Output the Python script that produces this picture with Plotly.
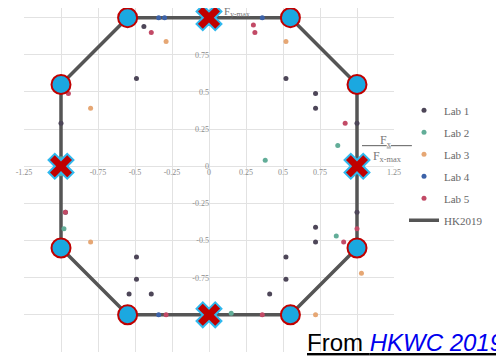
import plotly.graph_objects as go

# test data (normalised forces Fx/Fx-max, Fy/Fy-max)
lab1_x = [-0.49, 0.52, 0.72, 0.72, -1.0, 1.0, 1.0, -0.97, 0.72, 0.72, -0.49, -0.49, -0.54, -0.39, 0.52, 0.52, 0.41, -0.44]
lab1_y = [0.59, 0.59, 0.49, 0.39, 0.29, 0.29, -0.31, -0.31, -0.41, -0.51, -0.61, -0.76, -0.86, -0.86, -0.61, -0.76, -0.86, 0.94]
lab2_x = [0.38, 0.87, -1.0, -0.98, 0.86, 0.15, -1.0]
lab2_y = [0.04, 0.14, -0.05, -0.42, -0.47, -0.99, 0.05]
lab3_x = [-0.29, 0.52, -0.80, -0.80, 1.03, 0.72]
lab3_y = [0.84, 0.84, 0.39, -0.51, -0.72, -1.0]
lab4_x = [-0.34, -0.30, 0.36, -0.34]
lab4_y = [1.0, 1.0, 1.0, -1.0]
lab5_x = [-0.39, 0.30, 0.31, 0.92, -0.97, 1.0, 0.91, -0.29, 0.36, -0.95]
lab5_y = [0.90, 0.95, 0.90, 0.29, -0.31, -0.42, -0.51, -1.0, -1.0, 0.49]

# HK2019 interaction envelope (octagon)
hk_x = [-0.55, 0.55, 1.0, 1.0, 0.55, -0.55, -1.0, -1.0, -0.55]
hk_y = [1.0, 1.0, 0.55, -0.55, -1.0, -1.0, -0.55, 0.55, 1.0]

# highlighted points
corner_x = [-0.55, 0.55, 1.0, 1.0, 0.55, -0.55, -1.0, -1.0]
corner_y = [1.0, 1.0, 0.55, -0.55, -1.0, -1.0, -0.55, 0.55]
axis_x = [0, 1.0, 0, -1.0]
axis_y = [1.0, 0, -1.0, 0]

ticks = [-1.25, -1.0, -0.75, -0.5, -0.25, 0, 0.25, 0.5, 0.75, 1.0, 1.25]
tick_text = ["-1.25", "-1", "-0.75", "-0.5", "-0.25", "0", "0.25", "0.5", "0.75", "1", "1.25"]

labs = [
    ("Lab 1", lab1_x, lab1_y, "#4d4658"),
    ("Lab 2", lab2_x, lab2_y, "#62ad98"),
    ("Lab 3", lab3_x, lab3_y, "#e6a774"),
    ("Lab 4", lab4_x, lab4_y, "#3c62a8"),
    ("Lab 5", lab5_x, lab5_y, "#c24a66"),
]

Y_TOP = 1.065
Y_BOT = -1.25

fig = go.Figure()
fig.add_trace(go.Scatter(x=hk_x, y=hk_y, mode="lines", name="HK2019", legendgroup="hk",
                         line=dict(color="#555555", width=3.5), legendrank=6))
for i, (name, xs, ys, col) in enumerate(labs):
    fig.add_trace(go.Scatter(x=xs, y=ys, mode="markers", name=name, legendrank=i + 1,
                             legendgroup=name, marker=dict(color=col, size=5)))
fig.add_trace(go.Scatter(x=corner_x, y=corner_y, mode="markers", showlegend=False,
                         marker=dict(symbol="circle", size=19, color="#1ba8e0",
                                     line=dict(color="#c00000", width=2))))
fig.add_trace(go.Scatter(x=axis_x, y=axis_y, mode="markers", showlegend=False,
                         marker=dict(symbol="x", size=22, color="#c00000",
                                     line=dict(color="#2fb8ee", width=2))))

tickfont = dict(family="Liberation Serif", size=8, color="#8c8c8c")
fig.update_xaxes(range=[-1.25, 1.25], tickvals=ticks, ticktext=tick_text, automargin=False,
                 anchor="free", position=-Y_BOT / (Y_TOP - Y_BOT), showgrid=True,
                 gridcolor="#e2e2e2", zeroline=False, showline=False, tickfont=tickfont,
                 layer="below traces")
fig.update_yaxes(range=[Y_BOT, Y_TOP], tickvals=ticks, ticktext=tick_text, automargin=False,
                 anchor="free", position=0.5, showgrid=True, gridcolor="#e2e2e2",
                 zeroline=False, showline=False, tickfont=tickfont, layer="below traces")

fig.add_annotation(x=1.02, y=0.12, xref="x", yref="y", xanchor="left", showarrow=False,
                   text="<u>      F<sub>x</sub>       </u><br>F<sub>x-max</sub>",
                   font=dict(family="Liberation Serif", size=12, color="#777777"))
fig.add_annotation(x=0.09, y=1.04, xref="x", yref="y", xanchor="left", showarrow=False,
                   text="F<sub>y-max</sub>",
                   font=dict(family="Liberation Serif", size=11, color="#777777"))
fig.add_annotation(x=(297 - 16) / 370, y=-0.016, xref="paper", yref="paper",
                   xanchor="left", yanchor="bottom", showarrow=False,
                   text="<u>From <span style='color:#0000ee'><i>HKWC 2019</i></span></u>",
                   font=dict(family="Liberation Sans", size=24, color="#000000"))

# page body adds an 8px offset, so the figure is 8px smaller than the window
fig.update_layout(
    width=496, height=348,
    margin=dict(l=16, r=110, t=0, b=4, autoexpand=False),
    paper_bgcolor="white", plot_bgcolor="white",
    legend=dict(x=(396 - 16) / 370, y=0.745, xanchor="left", yanchor="top",
                font=dict(family="Liberation Serif", size=11, color="#666666"),
                itemwidth=30, traceorder="grouped", tracegroupgap=3,
                bgcolor="rgba(0,0,0,0)"),
)

fig.write_html("out.html")
